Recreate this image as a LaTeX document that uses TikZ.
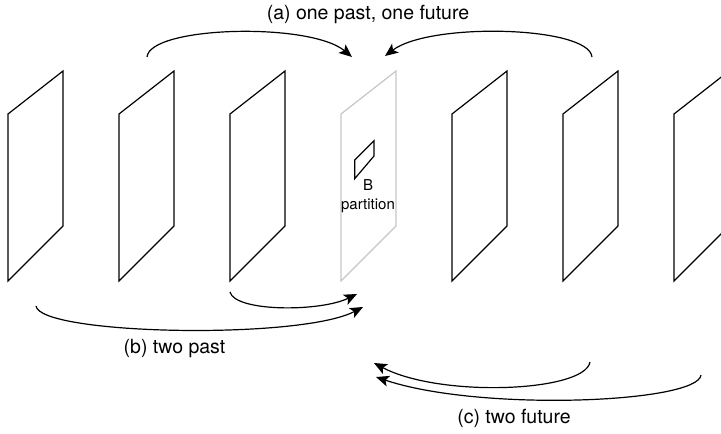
\documentclass[tikz,border=0pt]{standalone}
\usepackage{fontspec}
\setmainfont{TeX Gyre Heros}
\usetikzlibrary{arrows.meta}
\tikzset{>={Stealth[length=13pt,width=11pt,inset=3pt]}}
\tikzset{
  frame/.style={line width=1.2pt,line join=miter},
  link/.style={->,line width=1.2pt},
  caption/.style={font=\fontsize{19.5}{23}\selectfont,inner sep=0pt}
}

\begin{document}
\begin{tikzpicture}[x=1pt,y=-1pt]
  \useasboundingbox (0,0) rectangle (721,434);
  \clip (0,0) rectangle (721,434);

  % frames
  \foreach \i in {0,...,6} {
    \pgfmathsetmacro{\L}{8+111*\i}
    \ifnum\i=3
      \draw[frame,gray!45] (\L,114) -- (\L+55,71) -- (\L+55,226) -- (\L,281) -- cycle;
    \else
      \draw[frame] (\L,114) -- (\L+55,71) -- (\L+55,226) -- (\L,281) -- cycle;
    \fi
  }

  % B partition
  \draw[frame] (354.7,160) -- (374,140.7) -- (374,156) -- (354.7,178.7) -- cycle;
  \node[align=center,inner sep=0pt,font=\fontsize{15}{19}\selectfont] (part) at (368,196.5) {B\\partition};

  % arrow ends
  \coordinate (a1) at (147,57);
  \coordinate (a2) at (352,57);
  \coordinate (a3) at (592,57);
  \coordinate (a4) at (385,56);
  \coordinate (b1) at (230,292);
  \coordinate (b2) at (357,294);
  \coordinate (b3) at (36,306);
  \coordinate (b4) at (363,307);
  \coordinate (c1) at (590,362);
  \coordinate (c2) at (374,363);
  \coordinate (c3) at (701,375);
  \coordinate (c4) at (376,377);

  % (a)
  \draw[link] (a1) .. controls (150,26) and (310,22) .. (a2);
  \draw[link] (a3) .. controls (589,26) and (430,22) .. (a4);
  % (b)
  \draw[link] (b1) .. controls (235,312) and (320,312) .. (b2);
  \draw[link] (b3) .. controls (40,335) and (300,340) .. (b4);
  % (c)
  \draw[link] (c1) .. controls (585,392) and (440,398) .. (c2);
  \draw[link] (c3) .. controls (698,403) and (480,412) .. (c4);

  % captions
  \node[caption] (capa) at (368,14) {(a) one past, one future};
  \node[caption] (capb) at (174.5,349) {(b) two past};
  \node[caption] (capc) at (514,418.5) {(c) two future};
\end{tikzpicture}
\end{document}
